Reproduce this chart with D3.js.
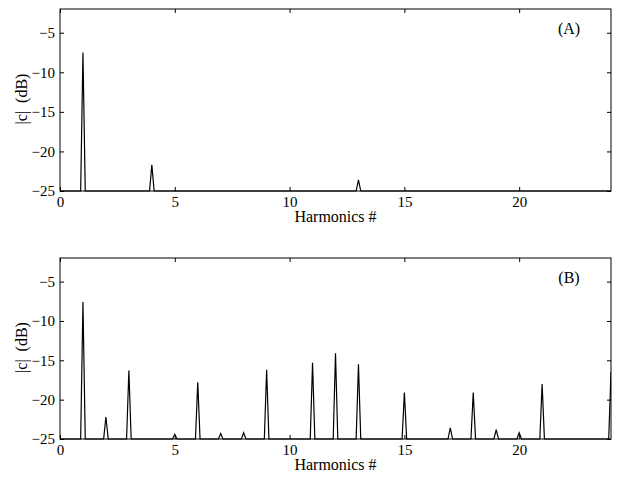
<!DOCTYPE html>
<html>
<head>
<meta charset="utf-8">
<script src="https://cdn.jsdelivr.net/npm/d3@7"></script>
<style>
  body { margin: 0; background: #fff; }
  text { font-family: "Liberation Serif", "Times New Roman", serif; }
</style>
</head>
<body>
<div id="chart"></div>
<script>
// harmonic numbers and peak magnitudes (dB)
var harmA = [1, 4, 13];
var peakA = [-7.5, -21.7, -23.6];

var harmB = [1, 2, 3, 5, 6, 7, 8, 9, 11, 12, 13, 15, 17, 18, 19, 20, 21, 24];
var peakB = [-7.6, -22.2, -16.3, -24.4, -17.8, -24.3, -24.2, -16.2, -15.3, -14.1, -15.5,
             -19.1, -23.6, -19.1, -23.8, -24.2, -18.0, -16.5];

var xTicks = [0, 5, 10, 15, 20];
var yTicks = [-25, -20, -15, -10, -5];
var xDomain = [0, 24];
var yDomain = [-25, -2];

var width = 620, height = 477;
var left = 60, right = 611;

var svg = d3.select("#chart").append("svg")
    .attr("width", width).attr("height", height);

var x = d3.scaleLinear().domain(xDomain).range([left, right]);

//==========================================================================
function drawPanel(top, bottom, harm, peak, tag, id) {
    var y = d3.scaleLinear().domain(yDomain).range([bottom, top]);

    svg.append("clipPath").attr("id", id)
        .append("rect")
        .attr("x", left).attr("y", top - 1)
        .attr("width", right - left).attr("height", bottom - top + 2);

    // spectrum line: floor at -25 with a narrow spike at each harmonic
    var hw = 0.1;
    var pts = [[xDomain[0], yDomain[0]]];
    harm.forEach(function (h, i) {
        pts.push([h - hw, yDomain[0]]);
        pts.push([h, peak[i]]);
        pts.push([h + hw, yDomain[0]]);
    });
    pts.push([xDomain[1] + 1, yDomain[0]]);

    var line = d3.line()
        .x(function (d) { return x(d[0]); })
        .y(function (d) { return y(d[1]); });

    svg.append("path")
        .attr("d", line(pts))
        .attr("clip-path", "url(#" + id + ")")
        .attr("fill", "none")
        .attr("stroke", "#000")
        .attr("stroke-width", 1.2);

    // axes with inward ticks
    var g = svg.append("g");
    g.append("g").attr("transform", "translate(0," + bottom + ")")
        .call(d3.axisBottom(x).tickValues(xTicks).tickSizeInner(-4).tickSizeOuter(0).tickPadding(5));
    g.append("g").attr("transform", "translate(0," + top + ")")
        .call(d3.axisTop(x).tickValues(xTicks).tickSizeInner(-4).tickSizeOuter(0).tickFormat(""));
    g.append("g").attr("transform", "translate(" + left + ",0)")
        .call(d3.axisLeft(y).tickValues(yTicks).tickSizeInner(-4).tickSizeOuter(0).tickPadding(5)
            .tickFormat(function (d) { return "\u2212" + Math.abs(d); }));
    g.append("g").attr("transform", "translate(" + right + ",0)")
        .call(d3.axisRight(y).tickValues(yTicks).tickSizeInner(-4).tickSizeOuter(0).tickFormat(""));

    g.selectAll("g").attr("font-family", null).attr("font-size", null);
    g.selectAll(".domain").remove();
    g.selectAll(".tick line").attr("stroke", "#000");
    g.selectAll(".tick text").attr("font-size", 15).attr("fill", "#000");

    svg.append("rect")
        .attr("x", left).attr("y", top)
        .attr("width", right - left).attr("height", bottom - top)
        .attr("fill", "none").attr("stroke", "#000").attr("stroke-width", 1);

    svg.append("text")
        .attr("x", (left + right) / 2).attr("y", bottom + 31)
        .attr("text-anchor", "middle").attr("font-size", 16)
        .text("Harmonics #");

    svg.append("text")
        .attr("transform", "translate(27," + ((top + bottom) / 2 - 1) + ") rotate(-90)")
        .attr("text-anchor", "middle").attr("font-size", 16)
        .attr("xml:space", "preserve")
        .text("|c|  (dB)");

    svg.append("text")
        .attr("x", 569).attr("y", top + 25)
        .attr("text-anchor", "middle").attr("font-size", 16)
        .text(tag);
}

drawPanel(9, 191, harmA, peakA, "(A)", "clipA");
drawPanel(258, 439, harmB, peakB, "(B)", "clipB");
</script>
</body>
</html>
